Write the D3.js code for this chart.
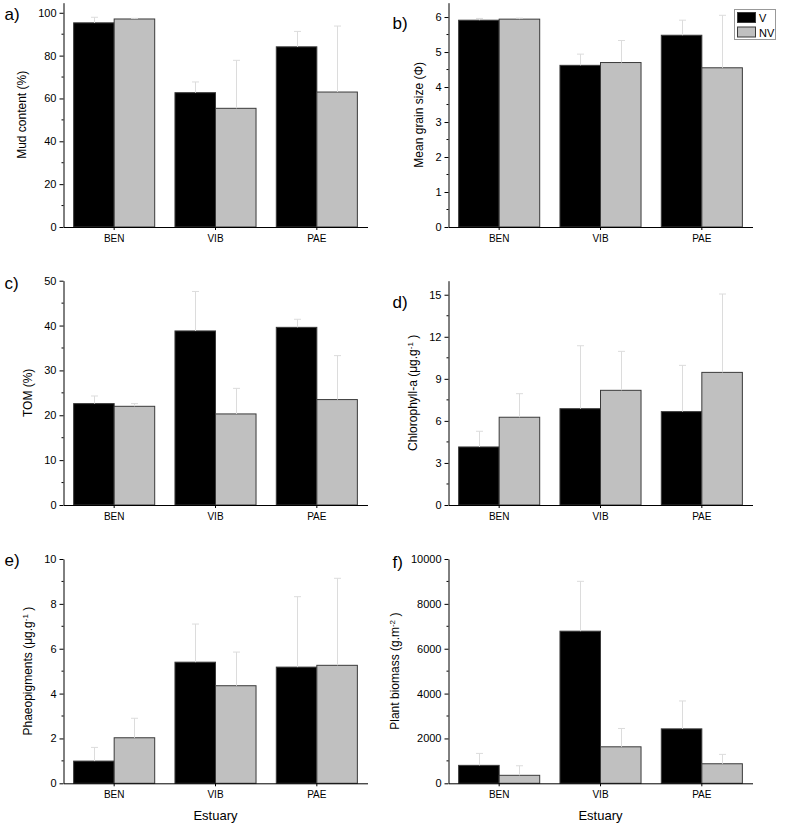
<!DOCTYPE html>
<html><head><meta charset="utf-8">
<script src="https://cdn.jsdelivr.net/npm/d3@7"></script>
<style>
body{margin:0;background:#fff;}
svg{display:block;font-family:"Liberation Sans",Arial,Helvetica,sans-serif;}
</style></head>
<body>
<svg id="chart" width="789" height="824"></svg>
<script>
// ---- data ----
const estuaries = ["BEN", "VIB", "PAE"];
const seriesNames = ["V", "NV"];

const mudV = [95.3, 62.7, 84.1],   mudVErr = [2.6, 5.0, 7.2];
const mudNV = [97.1, 55.4, 63.0],  mudNVErr = [0.3, 22.4, 30.8];
const mudTicks = [0, 20, 40, 60, 80, 100];

const grainV = [5.91, 4.62, 5.48],  grainVErr = [0.05, 0.32, 0.43];
const grainNV = [5.94, 4.70, 4.55], grainNVErr = [0.03, 0.63, 1.50];
const grainTicks = [0, 1, 2, 3, 4, 5, 6];

const tomV = [22.6, 38.8, 39.6],  tomVErr = [1.7, 8.8, 1.8];
const tomNV = [22.0, 20.3, 23.5], tomNVErr = [0.6, 5.7, 9.8];
const tomTicks = [0, 10, 20, 30, 40, 50];

const chlV = [4.14, 6.87, 6.66],  chlVErr = [1.12, 4.49, 3.30];
const chlNV = [6.26, 8.18, 9.46], chlNVErr = [1.68, 2.78, 5.59];
const chlTicks = [0, 3, 6, 9, 12, 15];

const phaeoV = [0.99, 5.40, 5.18],  phaeoVErr = [0.61, 1.70, 3.14];
const phaeoNV = [2.03, 4.35, 5.26], phaeoNVErr = [0.87, 1.50, 3.88];
const phaeoTicks = [0, 2, 4, 6, 8, 10];

const bioV = [800, 6782, 2427],  bioVErr = [533, 2222, 1244];
const bioNV = [356, 1627, 871],  bioNVErr = [426, 817, 418];
const bioTicks = [0, 2000, 4000, 6000, 8000, 10000];

// ---- layout ----
const svg = d3.select("#chart");
const colX = [63.5, 448.5];
const rowBottom = [227, 505, 783.3];
const plotW = 304, plotH = 224.3;
const colors = {V: "#000000", NV: "#c0c0c0"};

const panels = [
  {tag: "a)", col: 0, row: 0, max: 104.7, ticks: mudTicks, V: mudV, Ve: mudVErr, NV: mudNV, NVe: mudNVErr,
   label: [{t: "Mud content (%)"}], tagY: 20},
  {tag: "b)", col: 1, row: 0, max: 6.41, ticks: grainTicks, V: grainV, Ve: grainVErr, NV: grainNV, NVe: grainNVErr,
   label: [{t: "Mean grain size (Φ)"}], tagY: 29, legend: true},
  {tag: "c)", col: 0, row: 1, max: 50, ticks: tomTicks, V: tomV, Ve: tomVErr, NV: tomNV, NVe: tomNVErr,
   label: [{t: "TOM (%)"}], tagY: 289},
  {tag: "d)", col: 1, row: 1, max: 16, ticks: chlTicks, V: chlV, Ve: chlVErr, NV: chlNV, NVe: chlNVErr,
   label: [{t: "Chlorophyll-a (μg.g"}, {t: "-1", sup: true}, {t: " )"}], tagY: 308},
  {tag: "e)", col: 0, row: 2, max: 10, ticks: phaeoTicks, V: phaeoV, Ve: phaeoVErr, NV: phaeoNV, NVe: phaeoNVErr,
   label: [{t: "Phaeopigments (μg.g"}, {t: "-1", sup: true}, {t: " )"}], tagY: 566, xTitle: "Estuary"},
  {tag: "f)", col: 1, row: 2, max: 10000, ticks: bioTicks, V: bioV, Ve: bioVErr, NV: bioNV, NVe: bioNVErr,
   label: [{t: "Plant biomass (g.m"}, {t: "-2", sup: true}, {t: " )"}], tagY: 568, xTitle: "Estuary"}
];

panels.forEach(p => {
  const x0 = colX[p.col], yb = rowBottom[p.row];
  const x = d3.scaleBand().domain(estuaries).range([x0, x0 + plotW]).paddingInner(0.2).paddingOuter(0.1);
  const xs = d3.scaleBand().domain(seriesNames).range([0, x.bandwidth()]);
  const y = d3.scaleLinear().domain([0, p.max]).range([yb, yb - plotH]);
  const g = svg.append("g");

  // bars
  const rows = [];
  estuaries.forEach((e, i) => {
    rows.push({e, s: "V", v: p.V[i], err: p.Ve[i]});
    rows.push({e, s: "NV", v: p.NV[i], err: p.NVe[i]});
  });
  g.selectAll("rect.bar").data(rows).join("rect")
    .attr("x", d => x(d.e) + xs(d.s))
    .attr("y", d => y(d.v))
    .attr("width", xs.bandwidth())
    .attr("height", d => y(0) - y(d.v))
    .attr("fill", d => colors[d.s])
    .attr("stroke", "#3a3a3a").attr("stroke-width", 1);

  // error bars (upper)
  const eg = g.append("g").attr("stroke", "#dcdcdc").attr("stroke-width", 1);
  rows.forEach(d => {
    const cx = Math.round(x(d.e) + xs(d.s) + xs.bandwidth() / 2) + 0.5;
    const yt = y(d.v + d.err);
    eg.append("line").attr("x1", cx).attr("x2", cx).attr("y1", y(d.v)).attr("y2", yt);
    eg.append("line").attr("x1", cx - 3.5).attr("x2", cx + 3.5).attr("y1", yt).attr("y2", yt);
  });

  // y axis
  const yAxis = d3.axisLeft(y).tickValues(p.ticks).tickSize(4).tickPadding(3).tickSizeOuter(0)
    .tickFormat(d3.format("d"));
  const ya = g.append("g").attr("transform", `translate(${x0},0)`).call(yAxis);
  ya.selectAll("text").attr("font-size", 11).attr("fill", "#000").attr("font-family", "Liberation Sans, Arial, sans-serif");
  ya.selectAll("line").attr("stroke", "#000");
  ya.select(".domain").attr("stroke", "#000");
  // minor ticks
  const step = p.ticks[1] - p.ticks[0];
  const minors = [];
  for (let i = 0; i < p.ticks.length; i++) {
    const m = p.ticks[i] + step / 2;
    if (m < p.max) minors.push(m);
  }
  g.selectAll("line.minor").data(minors).join("line")
    .attr("x1", x0 - 2).attr("x2", x0).attr("y1", d => y(d)).attr("y2", d => y(d))
    .attr("stroke", "#000");

  // x axis
  const xAxis = d3.axisBottom(x).tickSize(3).tickPadding(5).tickSizeOuter(0);
  const xa = g.append("g").attr("transform", `translate(0,${yb})`).call(xAxis);
  xa.selectAll("text").attr("font-size", 10).attr("fill", "#000").attr("font-family", "Liberation Sans, Arial, sans-serif");
  xa.selectAll("line").attr("stroke", "#000");
  xa.select(".domain").attr("stroke", "#000");

  // y label
  let maxW = 0;
  ya.selectAll("text").each(function(){ maxW = Math.max(maxW, this.getBBox().width); });
  const lx = x0 - 4 - 3 - maxW - 12;
  const lt = g.append("text").attr("transform", `translate(${lx},${yb - plotH / 2}) rotate(-90)`)
    .attr("text-anchor", "middle").attr("font-size", 12).attr("fill", "#000");
  p.label.forEach(part => {
    const ts = lt.append("tspan").text(part.t);
    if (part.sup) ts.attr("font-size", 8).attr("baseline-shift", "super");
  });

  // panel tag
  svg.append("text").attr("x", x0 - 59 + (p.col === 0 ? 0 : 3)).attr("y", p.tagY)
    .attr("font-size", 17).attr("fill", "#000").text(p.tag);

  if (p.xTitle) {
    svg.append("text").attr("x", x0 + plotW / 2).attr("y", yb + 37)
      .attr("text-anchor", "middle").attr("font-size", 13).attr("fill", "#000").text(p.xTitle);
  }

  if (p.legend) {
    const lg = svg.append("g");
    lg.append("rect").attr("x", 734.5).attr("y", 9.5).attr("width", 41).attr("height", 30)
      .attr("fill", "#fff").attr("stroke", "#999");
    seriesNames.forEach((s, i) => {
      lg.append("rect").attr("x", 737.5).attr("y", 12.5 + i * 14.5).attr("width", 18).attr("height", 10)
        .attr("fill", colors[s]).attr("stroke", "#3a3a3a");
      lg.append("text").attr("x", 759).attr("y", 22 + i * 14.5).attr("font-size", 11).attr("fill", "#000").text(s);
    });
  }
});
</script>
</body></html>
